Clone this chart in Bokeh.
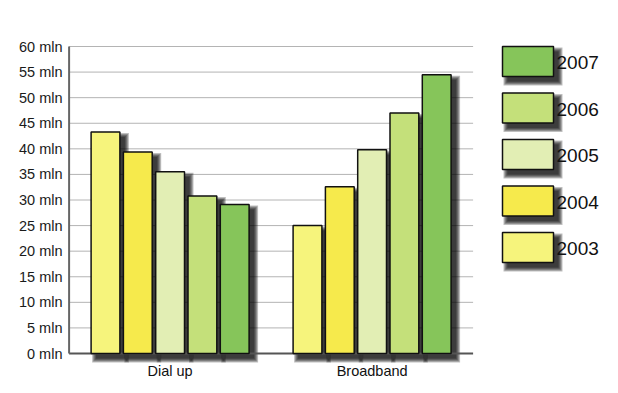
from bokeh.plotting import figure
from bokeh.models import Range1d, FixedTicker, LinearAxis
from bokeh.core.properties import value
from bokeh.embed import file_html
from bokeh.resources import INLINE

# ---- data ----
categories = ["Dial up", "Broadband"]
years = ["2003", "2004", "2005", "2006", "2007"]
dialup = [43.3, 39.4, 35.5, 30.8, 29.1]
broadband = [25.0, 32.6, 39.8, 47.0, 54.5]
colors = ["#F6F47C", "#F6EA4C", "#E2EEB4", "#C4E07A", "#86C55A"]
y_ticks = [0, 5, 10, 15, 20, 25, 30, 35, 40, 45, 50, 55, 60]
y_tick_labels = {t: f"{t} mln" for t in y_ticks}

# ---- layout (pixel mapping) ----
W, H = 610, 385
ML = 64                     # frame left within figure
PX0 = 68.6                  # figure px of x = 0
UNIT = 202.0                # px per category unit
PY0 = 353                   # figure px of y = 0
PPU = 307.0 / 60.0          # px per mln

def xd(px):  # figure px -> data x
    return (px - PX0) / UNIT

def yd(py):  # figure px -> data y
    return (PY0 - py) / PPU

x_start, x_end = xd(ML), xd(W)
y_start, y_end = yd(H), yd(0)

p = figure(width=W, height=H, output_backend="svg", toolbar_location=None,
           x_range=Range1d(x_start, x_end), y_range=Range1d(y_start, y_end),
           min_border_left=ML, min_border_right=0, min_border_top=0,
           min_border_bottom=0, x_axis_type=None, y_axis_type=None)
p.outline_line_color = None
p.xgrid.visible = False
p.ygrid.visible = False
p.background_fill_color = "white"
p.border_fill_color = "white"

yaxis = LinearAxis(ticker=FixedTicker(ticks=y_ticks),
                   major_label_overrides=y_tick_labels)
yaxis.axis_line_color = None
yaxis.major_tick_line_color = None
yaxis.minor_tick_line_color = None
yaxis.major_tick_out = 0
yaxis.major_label_standoff = 2
yaxis.major_label_text_font = "Liberation Sans"
yaxis.major_label_text_font_size = "14.5px"
yaxis.major_label_text_color = "#1a1a1a"
p.add_layout(yaxis, "left")

grid_end = 2.0
# gridlines
gy = [t for t in y_ticks if t > 0]
p.segment(x0=[0] * len(gy), x1=[grid_end] * len(gy), y0=gy, y1=gy,
          line_color="#b4b4b4", line_width=1)

# bar geometry
stride = 32.3 / UNIT
bw = 28.8 / UNIT
lefts, rights, tops, fills = [], [], [], []
for ci, vals in enumerate([dialup, broadband]):
    center = ci + 0.5
    for i, v in enumerate(vals):
        c = center + (i - 2) * stride
        lefts.append(c - bw / 2)
        rights.append(c + bw / 2)
        tops.append(v)
        fills.append(colors[i])
bottoms = [0] * len(tops)

# shadow helper
SDX, SDY = 5.0, 5.0
def shadow(l, r, b, t, layers=5, alpha=0.25):
    for k in range(layers):
        e = k * 1.0
        p.quad(left=[v + (SDX - e) / UNIT for v in l],
               right=[v + (SDX + e) / UNIT for v in r],
               bottom=[v - (SDY + e) / PPU for v in b],
               top=[v - (SDY - e) / PPU for v in t],
               fill_color="black", fill_alpha=alpha, line_color=None)

shadow(lefts, rights, bottoms, tops)

# axis lines
p.segment(x0=[0], x1=[grid_end], y0=[0], y1=[0], line_color="#555555", line_width=2)
p.segment(x0=[0], x1=[0], y0=[0], y1=[60], line_color="#666666", line_width=2)

p.quad(left=lefts, right=rights, bottom=bottoms, top=tops, fill_color=fills,
       line_color="#111111", line_width=1.5)

# category labels
p.text(x=[0.5, 1.5], y=[yd(370)] * 2, text=categories,
       text_font=value("Liberation Sans"), text_font_size="14.5px",
       text_align="center", text_baseline="middle", text_color="#111111")

# legend
lg_left = xd(502)
lg_right = xd(553)
lg_h = 30
lg_tops_px = [46 + k * 46.5 for k in range(len(years))]  # top to bottom
order = list(range(len(years)))[::-1]
ll, lr, lb, lt, lf = [], [], [], [], []
for row, yi in enumerate(order):
    tpx = lg_tops_px[row]
    ll.append(lg_left)
    lr.append(lg_right)
    lt.append(yd(tpx))
    lb.append(yd(tpx + lg_h))
    lf.append(colors[yi])
shadow(ll, lr, lb, lt)
p.quad(left=ll, right=lr, bottom=lb, top=lt, fill_color=lf,
       line_color="#111111", line_width=1.5)
p.text(x=[xd(556)] * len(years),
       y=[yd(tpx + lg_h / 2 + 1) for tpx in lg_tops_px],
       text=[years[i] for i in order],
       text_font=value("Liberation Sans"), text_font_size="19px",
       text_align="left", text_baseline="middle", text_color="#111111")

open("out.html", "w").write(file_html(p, INLINE))
